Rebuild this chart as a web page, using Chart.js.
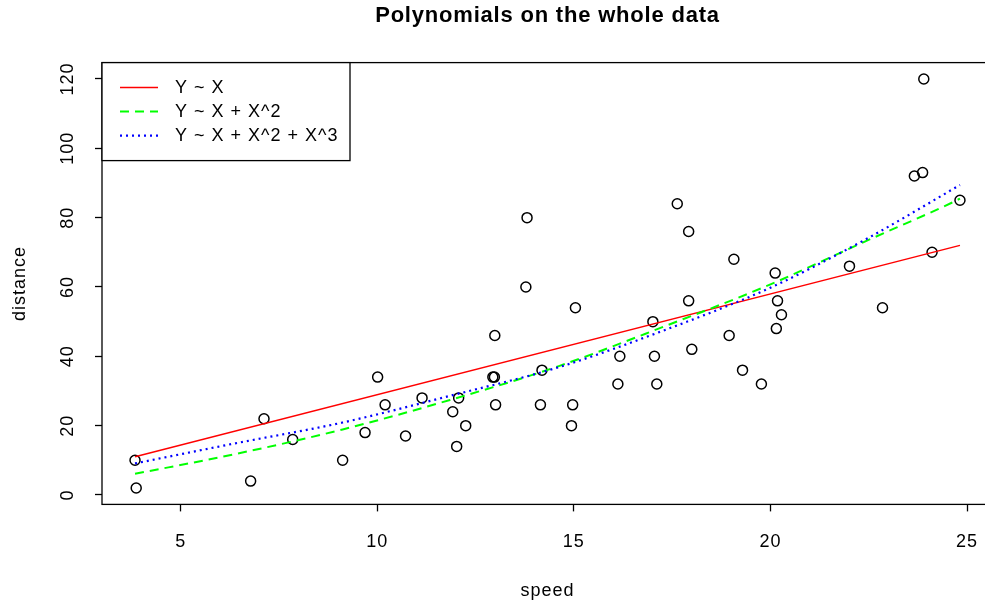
<!DOCTYPE html>
<html>
<head>
<meta charset="utf-8">
<script src="https://cdn.jsdelivr.net/npm/chart.js@4.4.0/dist/chart.umd.min.js"></script>
<style>
html, body { margin: 0; padding: 0; background: #fff; overflow: hidden; }
#wrap { width: 1000px; height: 604px; }
</style>
</head>
<body>
<div id="wrap"><canvas id="chart" width="1000" height="604"></canvas></div>
<script>
// Observations (speed is slightly jittered)
const speed = [3.84, 3.87, 6.78, 7.12, 7.85, 9.12, 9.69, 10.01, 10.2, 10.72,
    11.14, 11.92, 12.07, 12.25, 12.02, 12.99, 12.94, 12.98, 13.01, 13.78,
    13.81, 14.19, 14.15, 14.97, 14.94, 15.04, 16.17, 16.12, 17.01, 17.05,
    17.11, 17.63, 17.92, 17.92, 18.0, 18.95, 19.07, 19.29, 19.77, 20.12,
    20.18, 20.28, 20.15, 22.01, 22.85, 23.66, 23.87, 23.9, 24.11, 24.82];
const distance = [10, 2, 4, 22, 16, 10, 18, 34, 26, 17,
    28, 24, 28, 20, 14, 46, 34, 34, 26, 60,
    80, 36, 26, 26, 20, 54, 40, 32, 50, 40,
    32, 84, 76, 56, 42, 46, 68, 36, 32, 64,
    56, 52, 48, 66, 54, 92, 93, 120, 70, 85];

// Fitted curves
const linSpeed = [3.84, 24.82];
const linFit = [11.0, 72.0];
const quadSpeed = [3.84, 6.39, 9.12, 11.85, 14.6, 17.32, 19.97, 22.4, 24.61, 24.82];
const quadFit = [6.1, 11.8, 18.9, 27.4, 37.1, 48.7, 60.6, 73.1, 84.3, 85.5];
const cubicSpeed = [3.84, 6.39, 9.12, 11.85, 14.6, 17.32, 20.0, 22.4, 24.82];
const cubicFit = [9.1, 14.9, 20.9, 28.6, 36.8, 47.6, 59.8, 73.6, 89.4];

const fitLabels = ['Y ~ X', 'Y ~ X + X^2', 'Y ~ X + X^2 + X^3'];
const xTicks = [5, 10, 15, 20, 25];
const yTicks = [0, 20, 40, 60, 80, 100, 120];

const FONT = "'Liberation Sans', Arial, sans-serif";

function pairs(xs, ys) {
    return xs.map((x, i) => ({ x: x, y: ys[i] }));
}

// Frame, titles, tick labels and legend
const decorations = {
    id: 'decorations',
    afterDraw(chart) {
        const ctx = chart.ctx;
        const a = chart.chartArea;
        const xs = chart.scales.x;
        const ys = chart.scales.y;
        const cx = (a.left + a.right) / 2;
        ctx.save();

        ctx.strokeStyle = '#000';
        ctx.lineWidth = 1.3;
        ctx.strokeRect(a.left, a.top, a.right - a.left, a.bottom - a.top);

        ctx.fillStyle = '#000';
        ctx.letterSpacing = '0.8px';
        ctx.font = 'bold 22px ' + FONT;
        ctx.textAlign = 'center';
        ctx.textBaseline = 'middle';
        ctx.fillText('Polynomials on the whole data', cx, 16);

        ctx.letterSpacing = '1px';
        ctx.font = '18px ' + FONT;
        xTicks.forEach(v => ctx.fillText(String(v), xs.getPixelForValue(v), 542));
        ctx.fillText('speed', cx, 591);

        ctx.save();
        ctx.translate(68, 0);
        ctx.rotate(-Math.PI / 2);
        yTicks.forEach(v => ctx.fillText(String(v), -ys.getPixelForValue(v), 0));
        ctx.restore();

        ctx.save();
        ctx.translate(20, (a.top + a.bottom) / 2);
        ctx.rotate(-Math.PI / 2);
        ctx.fillText('distance', 0, 0);
        ctx.restore();

        // legend box
        const lx = a.left, ly = a.top, lw = 248, lh = 98;
        ctx.fillStyle = '#fff';
        ctx.fillRect(lx, ly, lw, lh);
        ctx.strokeStyle = '#000';
        ctx.lineWidth = 1.3;
        ctx.strokeRect(lx, ly, lw, lh);
        chart.data.datasets.slice(1).forEach((ds, i) => {
            const y = ly + 25 + i * 24;
            ctx.beginPath();
            ctx.strokeStyle = ds.borderColor;
            ctx.lineWidth = ds.borderWidth;
            ctx.setLineDash(ds.borderDash || []);
            ctx.moveTo(lx + 18, y);
            ctx.lineTo(lx + 56, y);
            ctx.stroke();
            ctx.setLineDash([]);
            ctx.fillStyle = '#000';
            ctx.textAlign = 'left';
            ctx.fillText(ds.label, lx + 73, y);
        });
        ctx.restore();
    }
};

const chart = new Chart(document.getElementById('chart'), {
    type: 'scatter',
    data: {
        datasets: [
            {
                label: 'data',
                data: pairs(speed, distance),
                pointRadius: 5,
                pointBorderWidth: 1.5,
                pointBorderColor: '#000',
                pointBackgroundColor: 'rgba(0,0,0,0)',
                showLine: false,
                order: 3
            },
            {
                label: fitLabels[0],
                data: pairs(linSpeed, linFit),
                showLine: true,
                pointRadius: 0,
                borderColor: '#ff0000',
                borderWidth: 1.5,
                order: 2
            },
            {
                label: fitLabels[1],
                data: pairs(quadSpeed, quadFit),
                showLine: true,
                pointRadius: 0,
                borderColor: '#00ff00',
                borderWidth: 2,
                borderDash: [9, 6],
                cubicInterpolationMode: 'monotone',
                order: 1
            },
            {
                label: fitLabels[2],
                data: pairs(cubicSpeed, cubicFit),
                showLine: true,
                pointRadius: 0,
                borderColor: '#0000ff',
                borderWidth: 2.2,
                borderDash: [2, 4],
                cubicInterpolationMode: 'monotone',
                order: 0
            }
        ]
    },
    options: {
        responsive: false,
        animation: false,
        devicePixelRatio: 1,
        layout: { padding: { top: 62.6, right: 7, left: 0, bottom: 0 } },
        plugins: {
            legend: { display: false },
            tooltip: { enabled: false },
            title: { display: false }
        },
        scales: {
            x: {
                type: 'linear',
                min: 3.0,
                max: 25.66,
                afterBuildTicks: s => { s.ticks = xTicks.map(v => ({ value: v })); },
                afterFit: s => { s.height = 99.6; },
                ticks: { display: false },
                border: { display: false },
                grid: { drawOnChartArea: false, drawTicks: true, tickLength: 7, tickColor: '#000', tickWidth: 1.3 }
            },
            y: {
                type: 'linear',
                min: -2.72,
                max: 124.72,
                afterBuildTicks: s => { s.ticks = yTicks.map(v => ({ value: v })); },
                afterFit: s => { s.width = 102; },
                ticks: { display: false },
                border: { display: false },
                grid: { drawOnChartArea: false, drawTicks: true, tickLength: 7, tickColor: '#000', tickWidth: 1.3 }
            }
        }
    },
    plugins: [decorations]
});
</script>
</body>
